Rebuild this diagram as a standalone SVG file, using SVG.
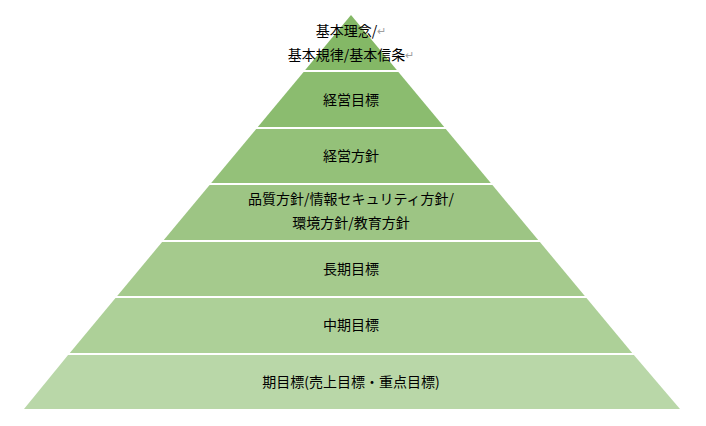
<svg xmlns="http://www.w3.org/2000/svg" width="706" height="426" viewBox="0 0 706 426">
<style>
text{font-family:"Noto Sans CJK JP","Noto Sans CJK SC",sans-serif;font-size:14px;fill:#000;text-anchor:middle;dominant-baseline:central}
.r{fill:#a0a0a0;font-size:11px}
</style>
<rect width="706" height="426" fill="#fff"/>
<g id="l1"><polygon points="351,15 396.8,70 305.2,70" fill="#84b866"/>
<text x="351" y="30">基本理念/<tspan class="r">↵</tspan></text>
<text x="351" y="54">基本規律/基本信条<tspan class="r">↵</tspan></text></g>
<g id="l2"><polygon points="303.6,72 398.4,72 444.2,127 257.8,127" fill="#8bbc6f"/><text x="351" y="99">経営目標</text></g>
<g id="l3"><polygon points="256.2,129 445.8,129 490.8,183 211.2,183" fill="#94c179"/><text x="351" y="155">経営方針</text></g>
<g id="l4"><polygon points="209.6,185 492.4,185 538.2,240 163.8,240" fill="#9dc584"/><text x="351" y="198">品質方針/情報セキュリティ方針/</text><text x="351" y="222">環境方針/教育方針</text></g>
<g id="l5"><polygon points="162.1,242 539.9,242 584.8,296 117.2,296" fill="#a5ca8d"/><text x="351" y="268">長期目標</text></g>
<g id="l6"><polygon points="115.5,298 586.5,298 632.2,353 69.8,353" fill="#add098"/><text x="351" y="324">中期目標</text></g>
<g id="l7"><polygon points="68.1,355 633.9,355 680,409 24,409" fill="#b9d7a8"/><text x="351" y="381">期目標(売上目標・重点目標)</text></g>
<g id="connectors"/>
</svg>
